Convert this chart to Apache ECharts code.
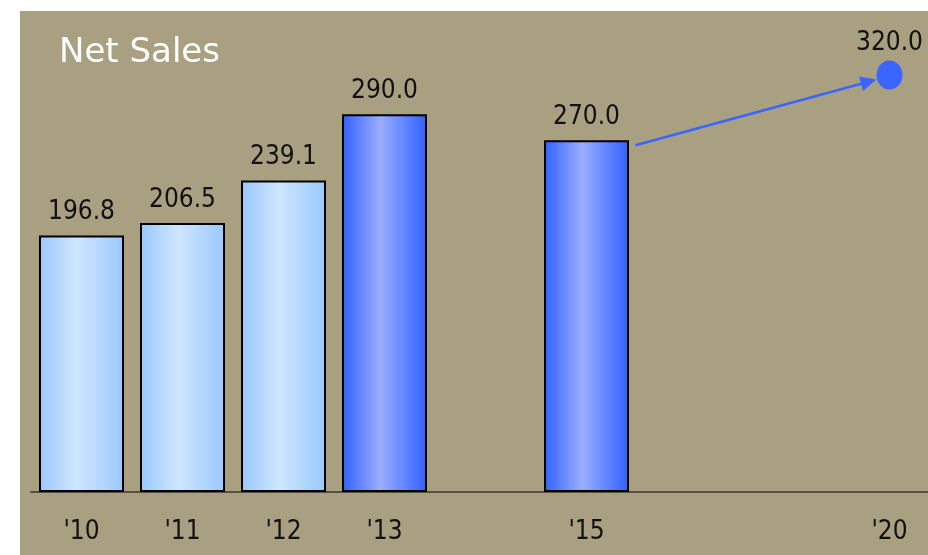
<!DOCTYPE html>
<html>
<head>
<meta charset="utf-8">
<script src="https://cdn.jsdelivr.net/npm/echarts@6/dist/echarts.min.js"></script>
<style>
  html, body { margin: 0; padding: 0; background: #ffffff; }
  #chart { width: 928px; height: 555px; }
</style>
</head>
<body>
<div id="chart"></div>
<script>
// Fiscal years on the category axis; blanks keep the gaps between years.
const categories = ["'10", "'11", "'12", "'13", "", "'15", "", "", "'20"];
// Net sales results
const actualSales = [196.8, 206.5, 239.1, null, null, null, null, null, null];
// Highlighted years
const planSales = [null, null, null, 290.0, null, 270.0, null, null, null];
// Long-term goal
const goalSales = [null, null, null, null, null, null, null, null, 320.0];

const FONT = "'DejaVu Sans Condensed', 'DejaVu Sans', sans-serif";
const TITLE_FONT = "'DejaVu Sans', sans-serif";
const BLUE = '#3a66ff';

function hGradient(edge, mid) {
  return new echarts.graphic.LinearGradient(0, 0, 1, 0, [
    { offset: 0, color: edge },
    { offset: 0.45, color: mid },
    { offset: 1, color: edge }
  ]);
}

const valueLabel = {
  show: true,
  position: 'top',
  distance: 10,
  fontFamily: FONT,
  fontSize: 26,
  color: '#111111',
  formatter: p => p.value.toFixed(1)
};

const chart = echarts.init(document.getElementById('chart'), null, { renderer: 'canvas' });

chart.setOption({
  backgroundColor: '#ffffff',
  animation: false,
  title: {
    text: 'Net Sales',
    left: 54,
    top: 31,
    textStyle: { fontFamily: TITLE_FONT, fontSize: 34, fontWeight: 'normal', color: '#ffffff' }
  },
  grid: { left: 31, width: 909, top: 36, bottom: 63, containLabel: false, outerBoundsMode: 'none' },
  xAxis: {
    type: 'category',
    data: categories,
    axisLine: { show: true, lineStyle: { color: '#575040', width: 2 } },
    axisTick: { show: false },
    axisLabel: {
      interval: 0,
      margin: 27,
      fontFamily: FONT,
      fontSize: 26,
      color: '#111111'
    },
    splitLine: { show: false }
  },
  yAxis: {
    type: 'value',
    min: 0,
    max: 350,
    show: false,
    splitLine: { show: false }
  },
  graphic: [{
    id: 'panel',
    type: 'rect',
    z: -100,
    silent: true,
    shape: { x: 20, y: 11, width: 908, height: 544 },
    style: { fill: '#a8a081' }
  }],
  series: [
    {
      name: 'Actual',
      type: 'bar',
      data: actualSales,
      barWidth: 85,
      barGap: '-100%',
      itemStyle: {
        color: hGradient('#99c8ff', '#cfe6ff'),
        borderColor: '#000000',
        borderWidth: 2
      },
      label: valueLabel
    },
    {
      name: 'Plan',
      type: 'bar',
      data: planSales,
      barWidth: 85,
      barGap: '-100%',
      itemStyle: {
        color: hGradient('#3060ff', '#9aaeff'),
        borderColor: '#000000',
        borderWidth: 2
      },
      label: valueLabel
    },
    {
      name: 'Goal',
      type: 'scatter',
      data: goalSales,
      symbol: 'circle',
      symbolSize: [26, 29],
      itemStyle: { color: BLUE, opacity: 1 },
      label: Object.assign({}, valueLabel, { distance: 4 })
    }
  ]
});

// Arrow from the top corner of the '15 bar to the goal point
const fromIdx = 5;
const toIdx = goalSales.findIndex(v => v != null);
const pFrom = chart.convertToPixel({ gridIndex: 0 }, [fromIdx, planSales[fromIdx]]);
const pTo = chart.convertToPixel({ gridIndex: 0 }, [toIdx, goalSales[toIdx]]);

const start = [pFrom[0] + 42.5 + 6.5, pFrom[1] + 5];
const tip = [pTo[0] - 13, pTo[1] + 4.5];
const dx = tip[0] - start[0], dy = tip[1] - start[1];
const len = Math.sqrt(dx * dx + dy * dy);
const ux = dx / len, uy = dy / len;
const headLen = 16, headHalf = 7.5;
const base = [tip[0] - ux * headLen, tip[1] - uy * headLen];

chart.setOption({
  graphic: [
    {
      id: 'panel',
      type: 'rect',
      z: -100,
      silent: true,
      shape: { x: 20, y: 11, width: 908, height: 544 },
      style: { fill: '#a8a081' }
    },
    {
      id: 'arrowLine',
      type: 'line',
      z: 10,
      silent: true,
      shape: { x1: start[0], y1: start[1], x2: base[0] + ux * 2, y2: base[1] + uy * 2 },
      style: { stroke: BLUE, lineWidth: 2.5 }
    },
    {
      id: 'arrowHead',
      type: 'polygon',
      z: 10,
      silent: true,
      shape: {
        points: [
          tip,
          [base[0] - uy * headHalf, base[1] + ux * headHalf],
          [base[0] + uy * headHalf, base[1] - ux * headHalf]
        ]
      },
      style: { fill: BLUE }
    }
  ]
});
</script>
</body>
</html>
